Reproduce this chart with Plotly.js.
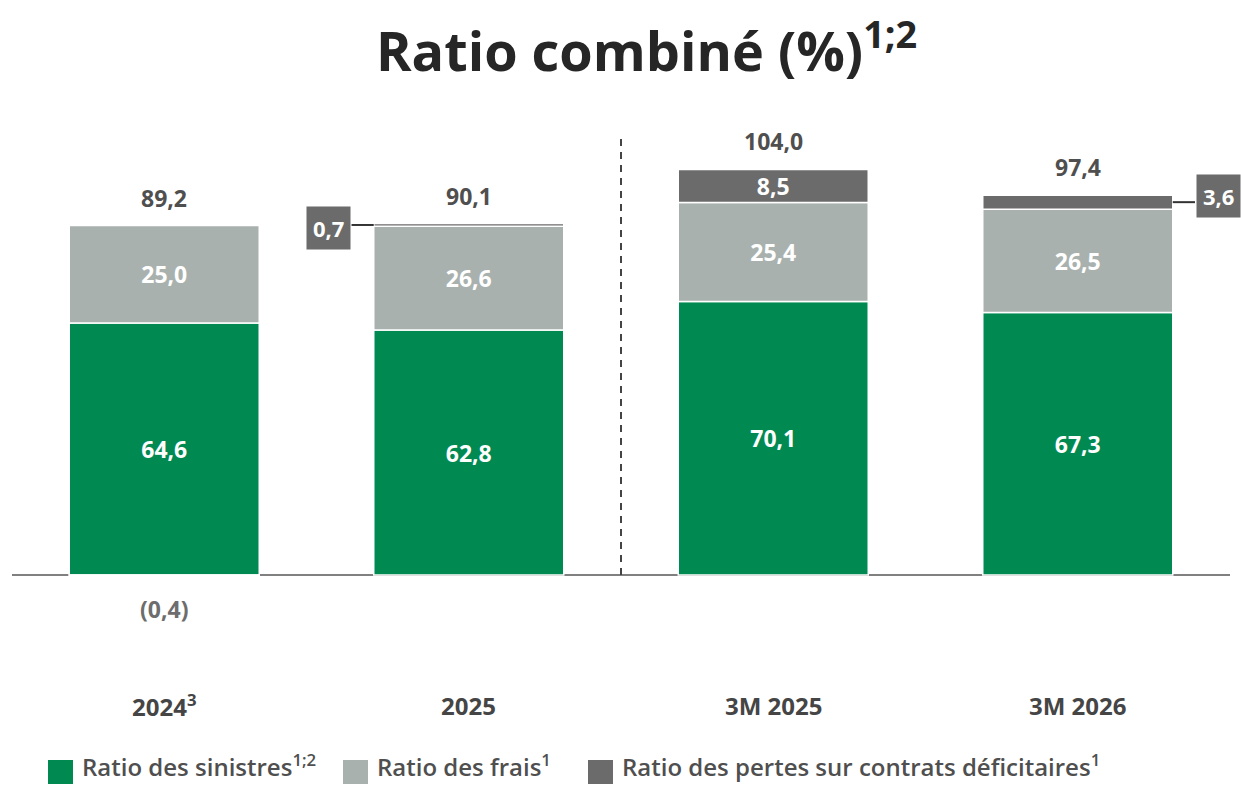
<!DOCTYPE html>
<html>
<head>
<meta charset="utf-8">
<script src="https://cdn.plot.ly/plotly-3.0.1.min.js"></script>
<style>html,body{margin:0;padding:0;background:#fff;}#chart{width:1241px;height:786px;}</style>
</head>
<body>
<div id="chart"></div>
<script>
const categories = ['2024', '2025', '3M 2025', '3M 2026'];
const categoryNotes = ['3', '', '', ''];
const sinistres = [64.6, 62.8, 70.1, 67.3];
const frais = [25.0, 26.6, 25.4, 26.5];
const pertes = [-0.4, 0.7, 8.5, 3.6];
const totals = [89.2, 90.1, 104.0, 97.4];
const calloutSide = ['below', 'left', 'inside', 'right'];
const seriesNames = ['Ratio des sinistres', 'Ratio des frais', 'Ratio des pertes sur contrats déficitaires'];
const seriesNotes = ['1;2', '1', '1'];
const titleText = 'Ratio combiné (%)';
const titleNote = '1;2';

const GREEN = '#008a52', LIGHT = '#a9b1ae', DARK = '#6b6b6b', TXT = '#4f4f4f';
const fmt = v => Math.abs(v).toFixed(1).replace('.', ',');
const xs = categories.map((c, i) => i);
const FONT = '"Open Sans", Lato, sans-serif';

const W = 1241, H = 786, L = 12, R = 11, T = 110, B = 166;
const PW = W - L - R, PH = H - T - B;
const px2x = px => (px - L) / PW;
const py2y = py => (H - B - py) / PH;

const barCommon = {
  type: 'bar', x: xs, width: 0.624,
  insidetextanchor: 'middle', textangle: 0,
  constraintext: 'none',
  textfont: {family: FONT, size: 23, color: '#ffffff', weight: 700},
  hoverinfo: 'skip', showlegend: false, cliponaxis: false
};

const traces = [
  Object.assign({}, barCommon, {name: seriesNames[0], y: sinistres, text: sinistres.map(fmt),
    textposition: 'inside',
    marker: {color: GREEN, line: {color: '#ffffff', width: 1.5}}}),
  Object.assign({}, barCommon, {name: seriesNames[1], y: frais, text: frais.map(fmt),
    textposition: 'inside',
    marker: {color: LIGHT, line: {color: '#ffffff', width: 1.5}}}),
  Object.assign({}, barCommon, {name: seriesNames[2], y: pertes,
    text: pertes.map(fmt),
    textposition: calloutSide.map(s => s === 'inside' ? 'inside' : 'none'),
    marker: {color: DARK, line: {color: '#ffffff', width: 1.5}}})
];

const annotations = [];
const shapes = [];

// totals
xs.forEach(i => {
  const top = Math.max(0, sinistres[i]) + Math.max(0, frais[i]) + Math.max(0, pertes[i]);
  annotations.push({x: i, y: top, xref: 'x', yref: 'y', yanchor: 'bottom', yshift: 10,
    text: fmt(totals[i]), showarrow: false,
    font: {family: FONT, size: 23, color: TXT, weight: 700}});
});

// callouts for pertes
xs.forEach(i => {
  const mid = sinistres[i] + frais[i] + pertes[i] / 2;
  const side = calloutSide[i];
  if (side === 'below') {
    annotations.push({x: i, y: pertes[i], xref: 'x', yref: 'y', yanchor: 'top', yshift: -14,
      text: '(' + fmt(pertes[i]) + ')', showarrow: false,
      font: {family: FONT, size: 23, color: '#6d6d6d', weight: 700}});
  } else if (side === 'left' || side === 'right') {
    const s = side === 'left' ? -1 : 1;
    shapes.push({type: 'line', xref: 'x', yref: 'y', x0: i + s * 0.312, x1: i + s * 0.385,
      y0: mid, y1: mid, line: {color: '#333333', width: 2}});
    annotations.push({x: i + s * 0.388, y: mid, xref: 'x', yref: 'y',
      xanchor: side === 'left' ? 'right' : 'left', yanchor: 'middle',
      yshift: side === 'left' ? -3 : 6,
      text: fmt(pertes[i]), showarrow: false, bgcolor: DARK, borderpad: 6,
      font: {family: FONT, size: 22, color: '#ffffff', weight: 700}});
  }
});

// category labels
xs.forEach(i => {
  annotations.push({x: i, y: 0, xref: 'x', yref: 'paper', yanchor: 'middle', yshift: -85,
    text: categories[i] + (categoryNotes[i] ? '<sup>' + categoryNotes[i] + '</sup>' : ''),
    showarrow: false, font: {family: FONT, size: 24, color: '#454545', weight: 700}});
});

// divider between annual and quarterly
shapes.push({type: 'line', xref: 'x', yref: 'y', x0: 1.5, x1: 1.5, y0: 0, y1: 113,
  line: {color: '#444444', width: 2, dash: '7px,6px'}});

// custom legend
const legendColors = [GREEN, LIGHT, DARK];
const legendX = [48, 343, 588];
const legendY = 772;
seriesNames.forEach((n, k) => {
  shapes.push({type: 'rect', xref: 'paper', yref: 'paper',
    x0: px2x(legendX[k]), x1: px2x(legendX[k] + 25),
    y0: py2y(legendY + 12), y1: py2y(legendY - 12),
    fillcolor: legendColors[k], line: {width: 0}});
  annotations.push({x: px2x(legendX[k] + 32), y: py2y(legendY - 6), xref: 'paper', yref: 'paper',
    xanchor: 'left', yanchor: 'middle', showarrow: false,
    text: n + '<sup>' + seriesNotes[k] + '</sup>',
    font: {family: FONT, size: 24, color: TXT, weight: 600}});
});

const layout = {
  width: W, height: H,
  margin: {l: L, r: R, t: T, b: B},
  paper_bgcolor: '#ffffff', plot_bgcolor: '#ffffff',
  barmode: 'relative', bargap: 0.376,
  showlegend: false,
  title: {text: titleText + '<sup>' + titleNote + '</sup>', x: 0.521, xanchor: 'center',
    y: 1 - 52 / H, yref: 'container', yanchor: 'middle',
    font: {family: FONT, size: 54, color: '#262626', weight: 700}},
  xaxis: {range: [-0.5, 3.5], showticklabels: false, showgrid: false, zeroline: false,
    showline: false, ticks: '', fixedrange: true},
  yaxis: {range: [-11.54, 119.23], showticklabels: false, showgrid: false,
    zeroline: true, zerolinecolor: '#808080', zerolinewidth: 2, showline: false, fixedrange: true},
  annotations: annotations,
  shapes: shapes
};

Plotly.newPlot('chart', traces, layout, {displayModeBar: false, staticPlot: true});
</script>
</body>
</html>
